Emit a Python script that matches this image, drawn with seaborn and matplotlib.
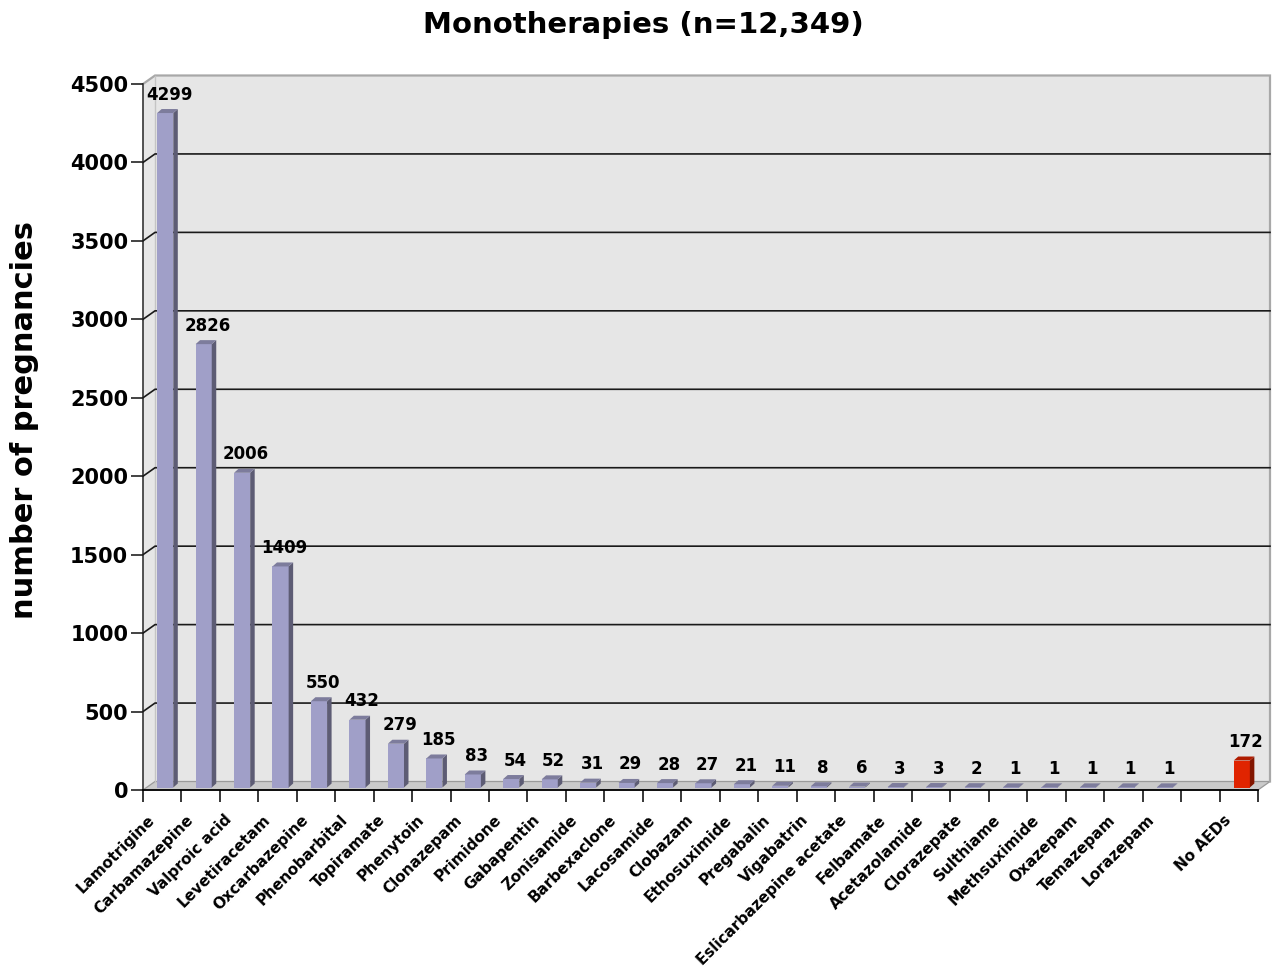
import numpy as np
import pandas as pd
import matplotlib
matplotlib.use("Agg")
import matplotlib.pyplot as plt
import seaborn as sns
from matplotlib.patches import Polygon
from matplotlib.transforms import ScaledTranslation

# ---------------- data ----------------
drugs = ["Lamotrigine", "Carbamazepine", "Valproic acid", "Levetiracetam",
         "Oxcarbazepine", "Phenobarbital", "Topiramate", "Phenytoin",
         "Clonazepam", "Primidone", "Gabapentin", "Zonisamide",
         "Barbexaclone", "Lacosamide", "Clobazam", "Ethosuximide",
         "Pregabalin", "Vigabatrin", "Eslicarbazepine acetate", "Felbamate",
         "Acetazolamide", "Clorazepate", "Sulthiame", "Methsuximide",
         "Oxazepam", "Temazepam", "Lorazepam"]
counts = [4299, 2826, 2006, 1409, 550, 432, 279, 185, 83, 54, 52, 31, 29, 28,
          27, 21, 11, 8, 6, 3, 3, 2, 1, 1, 1, 1, 1]
no_aed_label = "No AEDs"
no_aed_count = 172
gap_label = " "
title = "Monotherapies (n=12,349)"
ylabel = "number of pregnancies"
yticks = [0, 500, 1000, 1500, 2000, 2500, 3000, 3500, 4000, 4500]

drug_color = "#a09fc8"
no_aed_color = "#e02400"

categories = drugs + [no_aed_label]
values = counts + [no_aed_count]
order = drugs + [gap_label, no_aed_label]
df = pd.DataFrame({"drug": categories, "n": values})
palette = {c: drug_color for c in drugs}
palette[no_aed_label] = no_aed_color

# ---------------- figure ----------------
plt.rcParams["font.family"] = ["DejaVu Sans"]
W, H = 1272, 974
fig = plt.figure(figsize=(W / 100, H / 100), dpi=100)
ax = fig.add_axes([143 / W, (H - 790) / H, 1115 / W, 706 / H])

nslots = len(order)
x0, x1 = -0.5, nslots - 0.5
ymax = yticks[-1]
PX = (x1 - x0) / 1115.0      # data units per pixel (x)
PY = ymax / 706.0             # data units per pixel (y)

# 3D depth of wall and of the bars (pixels)
WDX, WDY = 12, 8.5
BDX, BDY = 4.5, 4.0
BSX, BSY = 3.0, 2.5          # bars sit slightly inside the floor

wdx, wdy = WDX * PX, WDY * PY

# back + left wall
wall = Polygon([(x0, 0), (x0, ymax), (x0 + wdx, ymax + wdy), (x1 + wdx, ymax + wdy),
                (x1 + wdx, wdy), (x1, 0)], closed=True, facecolor="#e6e6e6",
               edgecolor="none", zorder=0, clip_on=False)
ax.add_patch(wall)
ax.plot([x0, x0 + wdx, x1 + wdx, x1 + wdx], [ymax, ymax + wdy, ymax + wdy, wdy],
        color="#a8a8a8", lw=1.6, zorder=0.6, clip_on=False, solid_joinstyle="miter")
ax.plot([x0 + wdx, x0 + wdx], [wdy, ymax + wdy], color="#c4c4c4", lw=1.0,
        zorder=0.6, clip_on=False)

# floor
floor = Polygon([(x0, 0), (x1, 0), (x1 + wdx, wdy), (x0 + wdx, wdy)], closed=True,
                facecolor="#cacaca", edgecolor="#9a9a9a", lw=0.9, zorder=0.5,
                clip_on=False)
ax.add_patch(floor)

# grid lines on the wall
for v in yticks[1:-1]:
    ax.plot([x0, x0 + wdx, x1 + wdx], [v, v + wdy, v + wdy], color="#1a1a1a",
            lw=1.2, zorder=1, clip_on=False)

# bars
sns.barplot(data=df, x="drug", y="n", hue="drug", order=order, palette=palette,
            dodge=False, legend=False, width=0.42, saturation=1, linewidth=0,
            errorbar=None, ax=ax)

shift = ax.transData + ScaledTranslation(BSX / 100, BSY / 100, fig.dpi_scale_trans)
bdx, bdy = BDX * PX, BDY * PY
bars = [p for p in ax.patches if isinstance(p, matplotlib.patches.Rectangle)
        and p not in (wall, floor)]
for p in bars:
    h = p.get_height()
    if not np.isfinite(h):
        continue
    bx0 = p.get_x()
    bx1 = bx0 + p.get_width()
    fc = np.array(matplotlib.colors.to_rgb(p.get_facecolor()))
    p.set_transform(shift)
    p.set_zorder(3)
    side = Polygon([(bx1, 0), (bx1 + bdx, bdy), (bx1 + bdx, h + bdy), (bx1, h)],
                   closed=True, facecolor=fc * 0.58, edgecolor="none",
                   transform=shift, zorder=3, clip_on=False)
    top = Polygon([(bx0, h), (bx1, h), (bx1 + bdx, h + bdy), (bx0 + bdx, h + bdy)],
                  closed=True, facecolor=fc * 0.78, edgecolor="none",
                  transform=shift, zorder=3, clip_on=False)
    ax.add_patch(side)
    ax.add_patch(top)
    ax.annotate(f"{int(round(h))}", xy=((bx0 + bx1) / 2, h), xytext=(7, 21),
                textcoords="offset pixels", ha="center", va="center",
                fontsize=12, fontweight="bold", color="black", zorder=4,
                annotation_clip=False)

# axes styling
ax.set_xlim(x0, x1)
ax.set_ylim(0, ymax)
ax.patch.set_visible(False)
for s in ["top", "right"]:
    ax.spines[s].set_visible(False)
ax.spines["left"].set_color("#444444")
ax.spines["left"].set_linewidth(1.3)
ax.spines["bottom"].set_color("black")
ax.spines["bottom"].set_linewidth(1.3)
ax.spines["left"].set_zorder(0.7)

ax.set_yticks(yticks)
ax.set_yticklabels([str(t) for t in yticks], fontsize=15, fontweight="bold")
ax.tick_params(axis="y", length=8.6, width=1.2, color="#222222", pad=2)

ax.set_xticks(range(nslots))
ax.set_xticklabels(order, fontsize=11, fontweight="bold", rotation=45,
                   ha="right", rotation_mode="anchor")
ax.set_xticks(np.arange(nslots + 1) - 0.5, minor=True)
ax.tick_params(axis="x", which="major", length=0, pad=16)
ax.tick_params(axis="x", which="minor", length=8.6, width=1.1, color="black")
lab_off = ScaledTranslation(-15 / 100, 0, fig.dpi_scale_trans)
for lab in ax.get_xticklabels():
    lab.set_transform(lab.get_transform() + lab_off)

ax.set_xlabel("")
ax.set_ylabel("")

fig.text(643 / W, 1 - 25 / H, title, ha="center", va="center", fontsize=21,
         fontweight="bold")
fig.text(25 / W, 1 - 420 / H, ylabel, ha="center", va="center", rotation=90,
         fontsize=22, fontweight="bold")

fig.savefig("out.png", dpi=100, facecolor="white")
